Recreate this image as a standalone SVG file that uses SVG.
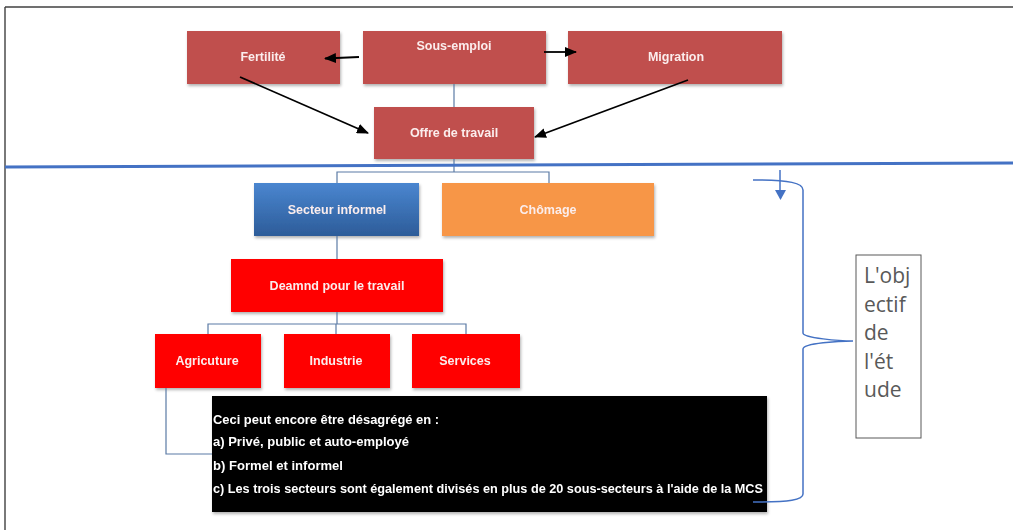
<svg xmlns="http://www.w3.org/2000/svg" width="1013" height="530" viewBox="0 0 1013 530">
<defs>
<style>
.brick{fill:#C0504D}
.red{fill:#FF0000}
.orange{fill:#F79646}
.lbl{font-family:"Liberation Sans",Arial,sans-serif;font-weight:bold;font-size:12.5px;fill:#FBEDED;text-anchor:middle}
.conn{stroke:#5B7BA5;stroke-width:1.2;fill:none}
.arr{stroke:#000;stroke-width:1.8;fill:none;marker-end:url(#ah)}
.note{font-family:"Liberation Sans",Arial,sans-serif;font-weight:bold;font-size:12px;fill:#fff}
.obj{font-family:"Open Sans","Liberation Sans",sans-serif;font-size:21px;fill:#595959}
</style>
<marker id="ah" viewBox="0 0 12 10" refX="11" refY="5" markerWidth="12" markerHeight="10" markerUnits="userSpaceOnUse" orient="auto">
<path d="M0,0 L12,5 L0,10 z" fill="#000"/>
</marker>
<linearGradient id="blueg" x1="0" y1="0" x2="0" y2="1">
<stop offset="0" stop-color="#4A86D0"/>
<stop offset="1" stop-color="#2D5C99"/>
</linearGradient>
<filter id="sh" x="-10%" y="-10%" width="125%" height="130%">
<feDropShadow dx="1" dy="2" stdDeviation="1.5" flood-color="#000" flood-opacity="0.3"/>
</filter>
</defs>
<rect x="0" y="0" width="1013" height="530" fill="#fff"/>
<g id="frame">
<line x1="5" y1="7" x2="1013" y2="7" stroke="#404040" stroke-width="1.4"/>
<line x1="5" y1="7" x2="5" y2="530" stroke="#404040" stroke-width="1.4"/>
</g>
<g id="n-fertilite" filter="url(#sh)"><rect class="brick" x="187" y="31" width="153" height="53"/><text class="lbl" x="263" y="61">Fertilité</text></g>
<g id="n-sousemploi" filter="url(#sh)"><rect class="brick" x="363" y="31" width="183" height="53"/><text class="lbl" x="454" y="50">Sous-emploi</text></g>
<g id="n-migration" filter="url(#sh)"><rect class="brick" x="568" y="31" width="214" height="53"/><text class="lbl" x="676" y="61">Migration</text></g>
<g id="n-offre" filter="url(#sh)"><rect class="brick" x="374" y="107" width="160" height="52"/><text class="lbl" x="454" y="137">Offre de travail</text></g>
<g id="n-secteur" filter="url(#sh)"><rect fill="url(#blueg)" x="254" y="183" width="165" height="53"/><text class="lbl" x="337" y="214">Secteur informel</text></g>
<g id="n-chomage" filter="url(#sh)"><rect class="orange" x="442" y="183" width="212" height="53"/><text class="lbl" x="548" y="214">Chômage</text></g>
<g id="n-demande" filter="url(#sh)"><rect class="red" x="231" y="259" width="212" height="53"/><text class="lbl" x="337" y="290">Deamnd pour le travail</text></g>
<g id="n-agri" filter="url(#sh)"><rect class="red" x="155" y="334" width="106" height="54"/><text class="lbl" x="207" y="365">Agricuture</text></g>
<g id="n-industrie" filter="url(#sh)"><rect class="red" x="284" y="334" width="106" height="54"/><text class="lbl" x="336" y="365">Industrie</text></g>
<g id="n-services" filter="url(#sh)"><rect class="red" x="412" y="334" width="108" height="54"/><text class="lbl" x="465" y="365">Services</text></g>
<g id="n-note" filter="url(#sh)">
<rect x="212" y="396" width="555" height="116" fill="#000"/>
<text class="note" x="213" y="424" textLength="226" lengthAdjust="spacingAndGlyphs">Ceci peut encore être désagrégé en :</text>
<text class="note" x="213" y="446" textLength="196" lengthAdjust="spacingAndGlyphs">a) Privé, public et auto-employé</text>
<text class="note" x="213" y="470" textLength="130" lengthAdjust="spacingAndGlyphs">b) Formel et informel</text>
<text class="note" x="213" y="493" textLength="550" lengthAdjust="spacingAndGlyphs">c) Les trois secteurs sont également divisés en plus de 20 sous-secteurs à l'aide de la MCS</text>
</g>
<g id="connectors">
<path class="conn" d="M454,84 V107"/>
<path class="conn" d="M454,159 V172"/>
<path class="conn" d="M337,183 V172 H549 V183"/>
<path class="conn" d="M337,236 V259"/>
<path class="conn" d="M337,312 V324"/>
<path class="conn" d="M208,334 V324 H466 V334"/>
<path class="conn" d="M336,324 V334"/>
<path class="conn" d="M166,388 V454 H212"/>
<path class="arr" d="M359,57 L325,58.5"/>
<path class="arr" d="M544,52 L576,52"/>
<path class="arr" d="M240,77 L368,133"/>
<path class="arr" d="M688,80 L535,137"/>
</g>
<g id="divider">
<line x1="5" y1="167" x2="1013" y2="163" stroke="#4472C4" stroke-width="3"/>
</g>
<g id="brace">
<path d="M753,180 C790,180 803,183 803,190 V333 C803,338 840,341 853,341 C840,341 803,343 803,349 V494 C803,500 790,502 753,502" fill="none" stroke="#4472C4" stroke-width="1.5"/>
<line x1="780" y1="170" x2="780" y2="191" stroke="#4472C4" stroke-width="1.5"/>
<path d="M775,190 L786,190 L780.5,200 z" fill="#4472C4"/>
</g>
<g id="n-objectif">
<rect x="856" y="255" width="65" height="183" fill="#fff" stroke="#595959" stroke-width="1"/>
<text class="obj" x="864" y="283">L'obj</text>
<text class="obj" x="864" y="312">ectif</text>
<text class="obj" x="864" y="340">de</text>
<text class="obj" x="864" y="369">l'ét</text>
<text class="obj" x="864" y="397">ude</text>
</g>
</svg>
